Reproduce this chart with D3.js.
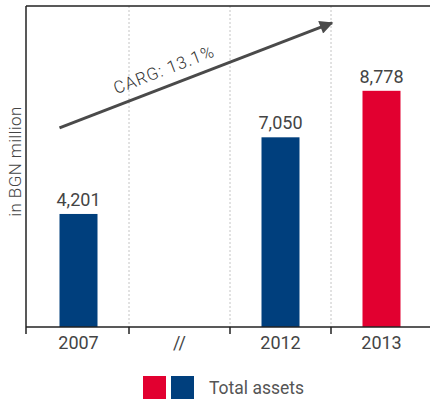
<!DOCTYPE html>
<html>
<head>
<meta charset="utf-8">
<script src="https://cdn.jsdelivr.net/npm/d3@7"></script>
<style>
  body { margin: 0; background: #fff; }
  text { font-family: Roboto, "Open Sans", sans-serif; font-weight: 400; }
</style>
</head>
<body>
<svg id="chart"></svg>
<script>
var categories = ["2007", "//", "2012", "2013"];
var years = ["2007", "2012", "2013"];
var values = [4201, 7050, 8778];
var barColors = ["#003f7d", "#003f7d", "#e20030"];
var labels = ["4,201", "7,050", "8,778"];
var yMax = 11930;
var cagrText = "CARG: 13.1%";
var arrowFrom = 7400;
var arrowTo = 11300;
var legendColors = ["#e20030", "#003f7d"];
var legendLabel = "Total assets";
var yLabel = "in BGN million";

var dimensions = {
  width: 430,
  height: 402,
  margin: { top: 6, bottom: 75, left: 26, right: 0 },
};
var barWidth = 38;

var svg = d3
  .select("#chart")
  .attr("width", dimensions.width)
  .attr("height", dimensions.height);

var xScale = d3
  .scaleBand()
  .domain(categories)
  .range([28, 432]);

var yScale = d3
  .scaleLinear()
  .domain([0, yMax])
  .range([dimensions.height - dimensions.margin.bottom, dimensions.margin.top]);

var baseY = yScale(0);
var step = xScale.step();

// dotted dividers between categories
svg
  .selectAll("line.divider")
  .data(categories.slice(1))
  .enter()
  .append("line")
  .attr("class", "divider")
  .attr("x1", (d) => xScale(d))
  .attr("x2", (d) => xScale(d))
  .attr("y1", yScale(yMax))
  .attr("y2", baseY)
  .attr("stroke", "#c4c4c4")
  .attr("stroke-width", 1)
  .attr("stroke-dasharray", "2,2");

// bars
svg
  .selectAll("rect.bar")
  .data(years)
  .enter()
  .append("rect")
  .attr("class", "bar")
  .attr("x", (d) => xScale(d) + (step - barWidth) / 2)
  .attr("width", barWidth)
  .attr("y", (d, i) => yScale(values[i]))
  .attr("height", (d, i) => baseY - yScale(values[i]))
  .attr("fill", (d, i) => barColors[i]);

// value labels
svg
  .selectAll("text.value")
  .data(years)
  .enter()
  .append("text")
  .attr("class", "value")
  .attr("x", (d) => xScale(d) + step / 2)
  .attr("y", (d, i) => yScale(values[i]) - 8)
  .attr("text-anchor", "middle")
  .attr("fill", "#444")
  .style("font-size", "18px")
  .text((d, i) => labels[i]);

// frame: top line, left axis, bottom axis
svg
  .append("line")
  .attr("x1", dimensions.margin.left)
  .attr("x2", dimensions.width)
  .attr("y1", yScale(yMax))
  .attr("y2", yScale(yMax))
  .attr("stroke", "#222")
  .attr("stroke-width", 1.5);

svg
  .append("line")
  .attr("x1", dimensions.margin.left)
  .attr("x2", dimensions.margin.left)
  .attr("y1", yScale(yMax))
  .attr("y2", baseY + 7)
  .attr("stroke", "#222")
  .attr("stroke-width", 1.5);

var xAxisgen = d3.axisBottom(xScale).tickSize(0).tickPadding(9);
var xAxis = svg
  .append("g")
  .attr("transform", `translate(0,${baseY})`)
  .call(xAxisgen);
xAxis.select(".domain").remove();
xAxis
  .selectAll("text")
  .attr("fill", "#444")
  .style("font-size", "18px")
  .style("font-family", "Roboto, sans-serif")
  .style("font-weight", 400);

svg
  .append("line")
  .attr("x1", dimensions.margin.left)
  .attr("x2", dimensions.width)
  .attr("y1", baseY)
  .attr("y2", baseY)
  .attr("stroke", "#222")
  .attr("stroke-width", 1.5);

svg
  .selectAll("line.tick")
  .data(categories.slice(1))
  .enter()
  .append("line")
  .attr("class", "tick")
  .attr("x1", (d) => xScale(d))
  .attr("x2", (d) => xScale(d))
  .attr("y1", baseY)
  .attr("y2", baseY + 7)
  .attr("stroke", "#222")
  .attr("stroke-width", 1.5);

// y label
svg
  .append("text")
  .attr("transform", `translate(21,${(yScale(yMax) + baseY) / 2 - 5}) rotate(-90)`)
  .attr("text-anchor", "middle")
  .attr("fill", "#444")
  .style("font-size", "17px")
  .style("font-weight", 300)
  .style("letter-spacing", "0.4px")
  .text(yLabel);

// growth arrow
var ax1 = xScale("2007") + (step - barWidth) / 2;
var ay1 = yScale(arrowFrom);
var ax2 = xScale("2013") + 1;
var ay2 = yScale(arrowTo);

svg
  .append("defs")
  .append("marker")
  .attr("id", "head")
  .attr("viewBox", "0 0 10 10")
  .attr("refX", 9)
  .attr("refY", 5)
  .attr("markerWidth", 5.5)
  .attr("markerHeight", 4.5)
  .attr("markerUnits", "strokeWidth")
  .attr("orient", "auto")
  .append("path")
  .attr("d", "M0,0 L10,5 L0,10 Z")
  .attr("fill", "#4a4a4a");

svg
  .append("line")
  .attr("x1", ax1)
  .attr("y1", ay1)
  .attr("x2", ax2)
  .attr("y2", ay2)
  .attr("stroke", "#4a4a4a")
  .attr("stroke-width", 3)
  .attr("marker-end", "url(#head)");

var angle = (Math.atan2(ay2 - ay1, ax2 - ax1) * 180) / Math.PI;
var tx = 170;
var ty = ay1 + ((ay2 - ay1) * (tx - ax1)) / (ax2 - ax1);
svg
  .append("text")
  .attr("transform", `translate(${tx},${ty}) rotate(${angle})`)
  .attr("y", -11)
  .attr("text-anchor", "middle")
  .attr("fill", "#333")
  .style("font-size", "17px")
  .style("font-weight", 300)
  .style("letter-spacing", "0.9px")
  .text(cagrText);

// legend
var legend = svg.append("g").attr("transform", "translate(143,376)");
legend
  .selectAll("rect")
  .data(legendColors)
  .enter()
  .append("rect")
  .attr("x", (d, i) => i * 28)
  .attr("width", 23)
  .attr("height", 23)
  .attr("fill", (d) => d);
legend
  .append("text")
  .attr("x", 66)
  .attr("y", 17.5)
  .attr("fill", "#555")
  .style("font-size", "17.5px")
  .text(legendLabel);
</script>
</body>
</html>
